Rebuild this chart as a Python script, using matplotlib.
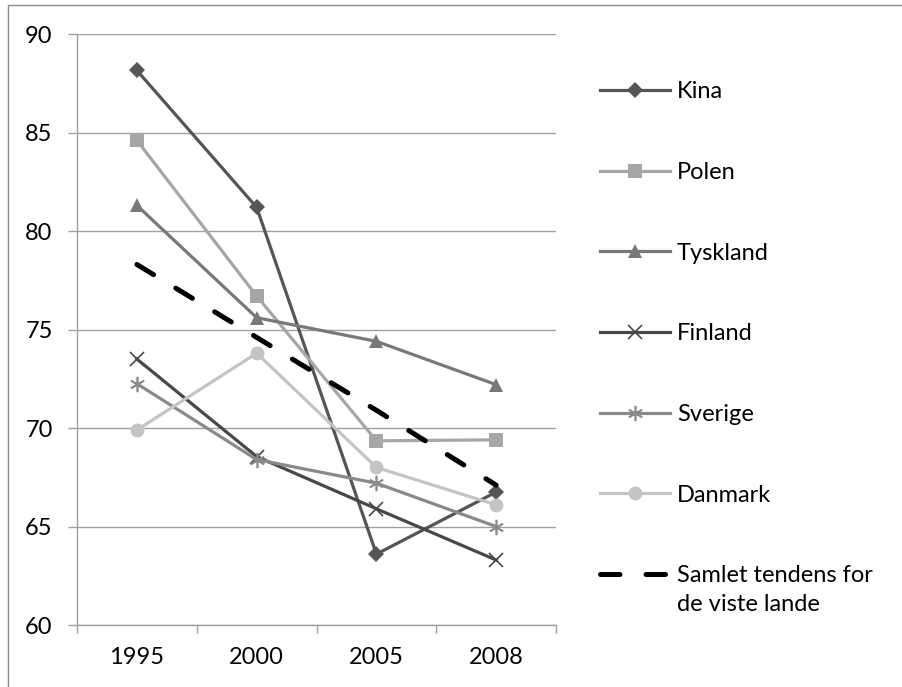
import matplotlib.pyplot as plt
from matplotlib.patches import Rectangle

plt.rcParams['font.family'] = ['Lato', 'DejaVu Sans']

years = ['1995', '2000', '2005', '2008']
kina = [88.15, 81.2, 63.6, 66.75]
polen = [84.6, 76.7, 69.35, 69.4]
tyskland = [81.3, 75.6, 74.4, 72.2]
finland = [73.5, 68.55, 65.9, 63.3]
sverige = [72.25, 68.4, 67.2, 65.0]
danmark = [69.9, 73.8, 68.0, 66.1]
samlet = [78.3, 74.6, 70.9, 67.1]

series = [
    ('Kina', kina, '#555555', 'D', 8, 0),
    ('Polen', polen, '#a6a6a6', 's', 10, 0),
    ('Tyskland', tyskland, '#787878', '^', 10, 0),
    ('Finland', finland, '#484848', 'x', 10, 1.2),
    ('Sverige', sverige, '#8a8a8a', (6, 2, 0), 11, 1.2),
    ('Danmark', danmark, '#c4c4c4', 'o', 10, 0),
]

fig = plt.figure(figsize=(9.03, 6.87), dpi=100)
ax = fig.add_axes([0.0853, 0.0902, 0.5305, 0.8603])

x = range(len(years))
for name, vals, col, mk, ms, mew in series:
    ax.plot(x, vals, color=col, lw=2.3, marker=mk, markersize=ms,
            markerfacecolor=col, markeredgecolor=col, markeredgewidth=mew,
            label=name)
ax.plot(x, samlet, color='black', lw=3.6, ls=(0, (3.9, 5.2)),
        dash_capstyle='round', label='Samlet tendens for\nde viste lande')

ax.set_xlim(-0.5, 3.5)
ax.set_ylim(60, 90)
ax.set_yticks(range(60, 91, 5))
ax.set_xticks(list(x))
ax.set_xticklabels(years)
ax.set_xticks([-0.5, 0.5, 1.5, 2.5, 3.5], minor=True)
ax.yaxis.grid(True, color='#a0a0a0', lw=1)
ax.set_axisbelow(True)
for s in ['top', 'right']:
    ax.spines[s].set_visible(False)
for s in ['left', 'bottom']:
    ax.spines[s].set_color('#a0a0a0')
    ax.spines[s].set_linewidth(1)
ax.tick_params(axis='y', length=6.5, width=1, color='#a0a0a0', pad=11, labelsize=17)
ax.tick_params(axis='x', which='major', length=0, pad=16, labelsize=17)
ax.tick_params(axis='x', which='minor', length=6, width=1, color='#a0a0a0')

leg = ax.legend(loc='upper left', bbox_to_anchor=(0.664, 0.882),
                bbox_transform=fig.transFigure, frameon=False, fontsize=17,
                handlelength=2.97, handletextpad=0.3, labelspacing=2.53,
                borderpad=0, borderaxespad=0)
leg.get_texts()[-1].set_linespacing(1.45)
# keep the dashed handle level with the first line of its two-line label
rows = leg._legend_handle_box.get_children()[0].get_children()
rows[-1].align = 'top'

# outer chart frame
fig.patches.append(Rectangle((7.5 / 903, -0.1), 1.2, 1.1 - 4.5 / 687,
                             transform=fig.transFigure, fill=False,
                             edgecolor='#8c8c8c', lw=1))

fig.savefig('out.png', dpi=100)
